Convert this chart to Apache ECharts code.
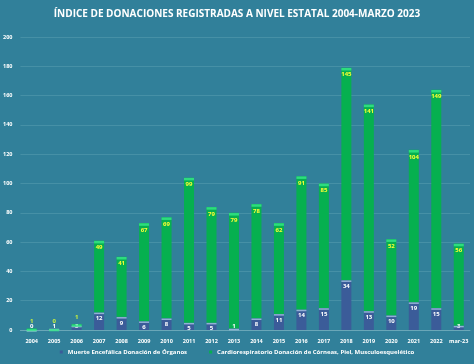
<!DOCTYPE html>
<html><head><meta charset="utf-8">
<script src="https://cdn.jsdelivr.net/npm/echarts@6/dist/echarts.min.js"></script>
<style>html,body{margin:0;padding:0;background:#31809a;}#c{width:474px;height:364px;}</style>
</head><body><div id="c"></div>
<script>
const categories = ['2004','2005','2006','2007','2008','2009','2010','2011','2012','2013','2014','2015','2016','2017','2018','2019','2020','2021','2022','mar-23'];
const muerteEncefalica = [0,1,3,12,9,6,8,5,5,1,8,11,14,15,34,13,10,19,15,3];
const cardiorespiratorio = [1,0,1,49,41,67,69,99,79,79,78,62,91,85,145,141,52,104,149,56];
const yTicks = [0,20,40,60,80,100,120,140,160,180,200];
const seriesNames = ['Muerte Encefálica Donación de Órganos','Cardiorespiratorio Donación de Córneas, Piel, Musculoesquelético'];
const titleText = 'ÍNDICE DE DONACIONES REGISTRADAS A NIVEL ESTATAL 2004-MARZO 2023';

const totals = muerteEncefalica.map((v,i)=>v+cardiorespiratorio[i]);
const font = 'Open Sans';
const greenData = cardiorespiratorio.map(v => v < 5
  ? {value:v,label:{position:'top',distance:4,color:'#c8f03c'}}
  : v);
const blueData = muerteEncefalica.map(v => v < 5
  ? {value:v,label:{position:'insideBottom',distance:1}}
  : v);
const chart = echarts.init(document.getElementById('c'));
chart.setOption({
  backgroundColor:'#31809a',
  animation:false,
  title:{text:titleText,left:'center',top:4,textStyle:{color:'#ffffff',fontSize:10,fontWeight:'bold',fontFamily:font}},
  legend:{bottom:4,left:'center',itemWidth:3,itemHeight:3,itemGap:22,icon:'rect',
    data:seriesNames,
    textStyle:{color:'#ffffff',fontSize:6,fontWeight:'bold',fontFamily:font}},
  grid:{left:18,right:4,top:37,bottom:34,containLabel:false},
  xAxis:{type:'category',data:categories,
    axisLine:{lineStyle:{color:'#6aa7b8',width:1}},axisTick:{show:false},
    axisLabel:{color:'#ffffff',fontSize:5.5,fontWeight:'bold',fontFamily:font,margin:8,interval:0}},
  yAxis:{type:'value',min:0,max:200,interval:20,
    axisLine:{show:false},axisTick:{show:false},
    axisLabel:{color:'#ffffff',fontSize:5.5,fontWeight:'bold',fontFamily:font,margin:8,
      formatter:v=>yTicks.includes(v)?String(v):''},
    splitLine:{lineStyle:{color:'#4690a6',width:1}}},
  series:[
    {name:seriesNames[0],type:'bar',stack:'a',barWidth:10,data:blueData,
      itemStyle:{color:'#3b5c99'},
      label:{show:true,position:'insideTop',distance:3,color:'#ffffff',fontSize:6,fontWeight:'bold',fontFamily:font}},
    {name:seriesNames[1],type:'bar',stack:'a',barWidth:10,data:greenData,
      itemStyle:{color:'#06b04f'},
      label:{show:true,position:'insideTop',distance:4,color:'#ffff33',fontSize:6,fontWeight:'bold',fontFamily:font}},
    {type:'scatter',data:muerteEncefalica,symbol:'rect',symbolSize:[10,1.5],symbolOffset:[0,1],
      itemStyle:{color:'#a9c4e6'},silent:true,z:5},
    {type:'scatter',data:totals,symbol:'rect',symbolSize:[10,2.5],symbolOffset:[0,1.5],
      itemStyle:{color:'#37e88a'},silent:true,z:5}
  ]
});
</script></body></html>
